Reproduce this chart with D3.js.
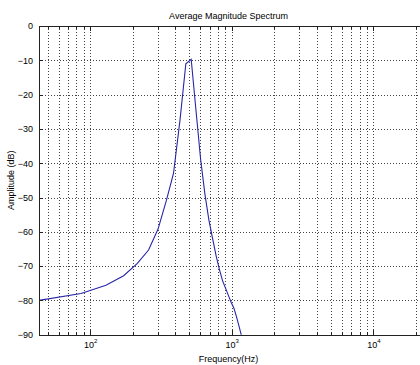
<!DOCTYPE html>
<html>
<head>
<meta charset="utf-8">
<script src="https://cdn.jsdelivr.net/npm/d3@7"></script>
<style>
  body { margin: 0; background: #fff; }
  text { font-family: "Liberation Sans", Arial, sans-serif; fill: #000; }
</style>
</head>
<body>
<div id="chart"></div>
<script>
// spectrum bins
const freqHz = [43.5, 86.13, 129.2, 172.27, 215.33, 258.4, 301.46, 344.53, 387.6, 430.66,
  473.73, 516.8, 559.86, 602.93, 645.99, 689.06, 732.13, 775.2, 818.26, 861.33,
  904.39, 947.46, 990.53, 1033.59, 1076.66, 1119.73, 1162.79, 1205.86];
const ampDb = [-80.0, -78.0, -75.6, -72.8, -69.2, -65.3, -59.2, -51.0, -43.0, -27.5,
  -11.0, -9.7, -25.0, -39.0, -49.0, -56.5, -62.0, -67.0, -71.0, -74.3,
  -76.5, -78.6, -80.6, -82.2, -84.6, -87.2, -89.8, -92.5];

const yTicks = [0, -10, -20, -30, -40, -50, -60, -70, -80, -90];
const xMajor = [100, 1000, 10000];
const xMinor = [50, 60, 70, 80, 90, 200, 300, 400, 500, 600, 700, 800, 900,
  2000, 3000, 4000, 5000, 6000, 7000, 8000, 9000, 20000];
const xDomain = [43.5, 22050];
const yDomain = [-90, 0];

const titleText = "Average Magnitude Spectrum";
const xLabelText = "Frequency(Hz)";
const yLabelText = "Amplitude (dB)";

// set the dimensions and margins of the graph
const margin = {top: 26, right: -2, bottom: 30.3, left: 39},
  width = 420 - margin.left - margin.right,
  height = 365 - margin.top - margin.bottom;

const svg = d3.select("#chart")
  .append("svg")
    .attr("width", 420)
    .attr("height", 365)
  .append("g")
    .attr("transform", "translate(" + margin.left + "," + margin.top + ")");

const x = d3.scaleLog().domain(xDomain).range([0, width]);
const y = d3.scaleLinear().domain(yDomain).range([height, 0]);

// dotted grid
const grid = svg.append("g").attr("shape-rendering", "crispEdges");
grid.selectAll(".vg")
  .data(xMajor.concat(xMinor))
  .enter().append("line")
    .attr("x1", d => Math.round(x(d)) + 0.5)
    .attr("x2", d => Math.round(x(d)) + 0.5)
    .attr("y1", 0)
    .attr("y2", height)
    .attr("stroke", "#444")
    .attr("stroke-width", 1)
    .attr("stroke-dasharray", "1,2");
grid.selectAll(".hg")
  .data(yTicks.slice(1, -1))
  .enter().append("line")
    .attr("x1", 0)
    .attr("x2", width)
    .attr("y1", d => Math.round(y(d)) + 0.5)
    .attr("y2", d => Math.round(y(d)) + 0.5)
    .attr("stroke", "#444")
    .attr("stroke-width", 1)
    .attr("stroke-dasharray", "1,2");

// clip for the line
svg.append("defs").append("clipPath")
  .attr("id", "clip")
  .append("rect")
    .attr("width", width)
    .attr("height", height);

const line = d3.line()
  .x((d, i) => x(freqHz[i]))
  .y(d => y(d));

svg.append("path")
  .datum(ampDb)
  .attr("clip-path", "url(#clip)")
  .attr("fill", "none")
  .attr("stroke", "#2626a8")
  .attr("stroke-width", 1.1)
  .attr("d", line);

// axes: ticks pointing inwards, MATLAB style
const axStyle = g => {
  g.selectAll(".domain").attr("stroke", "#222");
  g.selectAll(".tick line").attr("stroke", "#222");
  g.attr("shape-rendering", "crispEdges");
};

// bottom minor ticks
svg.append("g")
  .attr("transform", "translate(0," + height + ")")
  .call(d3.axisBottom(x).tickValues(xMinor).tickSizeInner(-3).tickSizeOuter(0).tickFormat(""))
  .call(axStyle);
// bottom major ticks
const xAxis = svg.append("g")
  .attr("transform", "translate(0," + height + ")")
  .call(d3.axisBottom(x).tickValues(xMajor).tickSizeInner(-5).tickSizeOuter(0).tickFormat(""))
  .call(axStyle);
xAxis.selectAll(".tick").append("text")
  .attr("y", 13)
  .attr("text-anchor", "middle")
  .style("font-size", "9px")
  .each(function(d) {
    const t = d3.select(this);
    t.append("tspan").text("10");
    t.append("tspan").attr("dy", -5).style("font-size", "6px").text(Math.round(Math.log10(d)));
  });

// top ticks
svg.append("g")
  .call(d3.axisTop(x).tickValues(xMinor).tickSizeInner(-3).tickSizeOuter(0).tickFormat(""))
  .call(axStyle);
svg.append("g")
  .call(d3.axisTop(x).tickValues(xMajor).tickSizeInner(-5).tickSizeOuter(0).tickFormat(""))
  .call(axStyle);

// left axis
const yAxis = svg.append("g")
  .call(d3.axisLeft(y).tickValues(yTicks).tickSizeInner(-4).tickSizeOuter(0).tickPadding(6))
  .call(axStyle);
yAxis.selectAll(".tick text")
  .style("font-size", "9px")
  .attr("fill", "#000");

// titles
svg.append("text")
  .attr("x", width / 2 - 2)
  .attr("y", -7)
  .attr("text-anchor", "middle")
  .style("font-size", "9px")
  .text(titleText);

svg.append("text")
  .attr("x", width / 2 - 2)
  .attr("y", height + 27)
  .attr("text-anchor", "middle")
  .style("font-size", "9px")
  .text(xLabelText);

svg.append("text")
  .attr("transform", "rotate(-90)")
  .attr("x", -height / 2)
  .attr("y", -25)
  .attr("text-anchor", "middle")
  .style("font-size", "9px")
  .text(yLabelText);
</script>
</body>
</html>
